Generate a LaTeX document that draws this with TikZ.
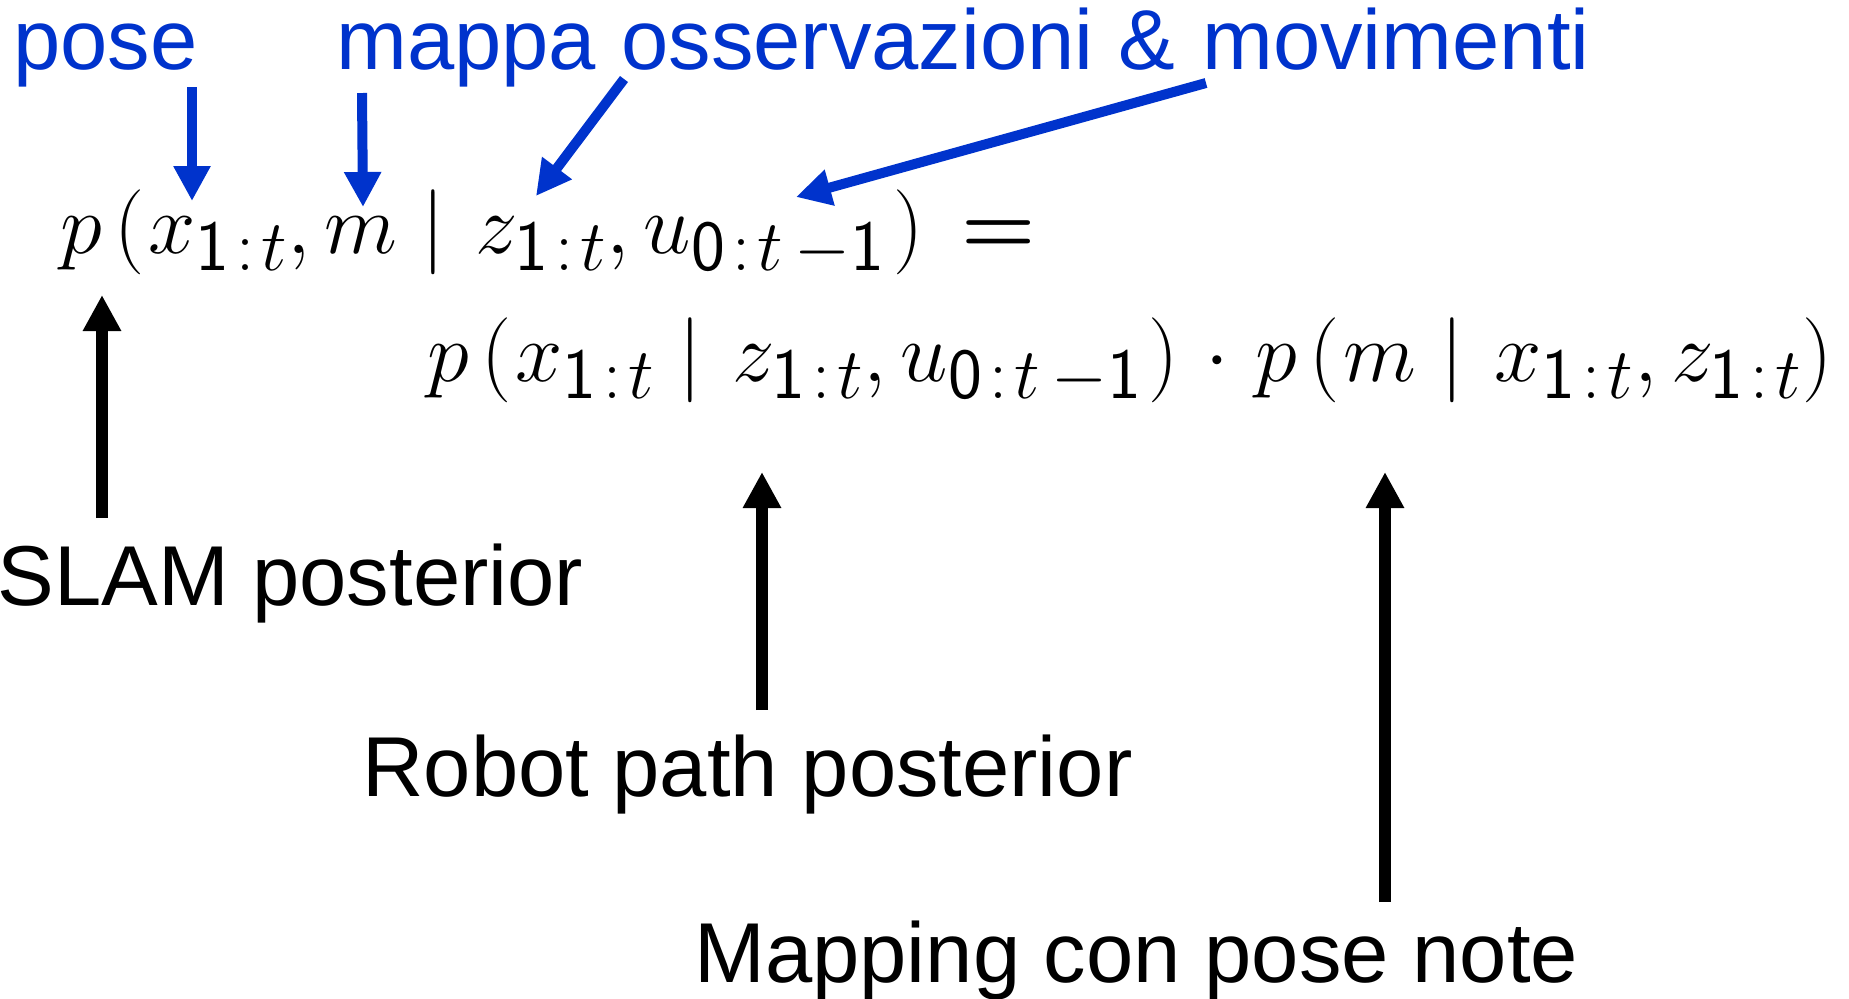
\RequirePackage{fix-cm}
\documentclass[tikz,border=0pt]{standalone}
\usepackage[no-math]{fontspec}
\newfontfamily\lab{Liberation Sans}
\usetikzlibrary{arrows.meta}
\definecolor{lblue}{HTML}{0033CC}
\DeclareMathSizes{42.5}{42.5}{36}{28}
\newcommand\cln{\mskip1.75mu\mathsf{:}\mskip1.75mu}
\newcommand\one{\mathsf{1}}
\newcommand\zero{\mathsf{0}}
\newcommand\tmo{t\mskip3mu-\one}
\newcommand\pp{p\kern6pt(\kern2pt}
\newcommand\md{\mid\kern3.5pt}
\newcommand\eqsign{\mathrel{\mbox{\boldmath$=$}}}
\begin{document}
\begin{tikzpicture}[x=0.5pt,y=-0.5pt,
  lbl/.style={inner sep=0pt, anchor=base west, font=\lab\fontsize{42.5}{50}\selectfont},
  blbl/.style={lbl, text=lblue},
  eq/.style={inner sep=0pt, anchor=base west, font=\fontsize{42.5}{50}\selectfont},
  barrow/.style={line width=6pt, -{Triangle[width=18pt,length=18pt]}},
  bluearrow/.style={line width=5pt, color=lblue, -{Triangle[width=17.5pt,length=17.5pt]}}]
\useasboundingbox (0,0) rectangle (1849,998);
% formula
\node[eq] (eqa) at (60,253) {$\pp x_{\one\cln t}, m \md z_{\one\cln t}, u_{\zero\cln\tmo}\kern4pt)\kern7pt\eqsign$};
\node[eq] (eqb) at (427,381) {$\pp x_{\one\cln t} \md z_{\one\cln t}, u_{\zero\cln\tmo}\kern3pt)\kern4pt\cdot\kern4pt \pp m \md x_{\one\cln t}, z_{\one\cln t})$};
% blue labels
\node[blbl] (pose) at (13,69) {pose};
\node[blbl] (mappa) at (336,69) {mappa};
\node[blbl] (oss) at (621,69) {osservazioni};
\node[blbl] (amp) at (1118,69) {\&};
\node[blbl] (mov) at (1202,69) {movimenti};
% black labels
\node[lbl] (slam) at (-3,605) {SLAM posterior};
\node[lbl] (robot) at (362,796) {Robot path posterior};
\node[lbl] (mapping) at (694,982) {Mapping con pose note};
% coordinates
\coordinate (p1) at (192,87);  \coordinate (q1) at (192,201);
\coordinate (p2) at (362,93);  \coordinate (q2) at (363,207);
\coordinate (p3) at (624,79);  \coordinate (q3) at (536,196);
\coordinate (p4) at (1206,83); \coordinate (q4) at (796,197);
\coordinate (s1) at (102,518); \coordinate (t1) at (102,295);
\coordinate (s2) at (762,710); \coordinate (t2) at (762,472);
\coordinate (s3) at (1385,902); \coordinate (t3) at (1385,472);
\draw[bluearrow] (p1) -- (q1);
\draw[bluearrow] (p2) -- (q2);
\draw[bluearrow] (p3) -- (q3);
\draw[bluearrow] (p4) -- (q4);
\draw[barrow] (s1) -- (t1);
\draw[barrow] (s2) -- (t2);
\draw[barrow] (s3) -- (t3);
\end{tikzpicture}
\end{document}
